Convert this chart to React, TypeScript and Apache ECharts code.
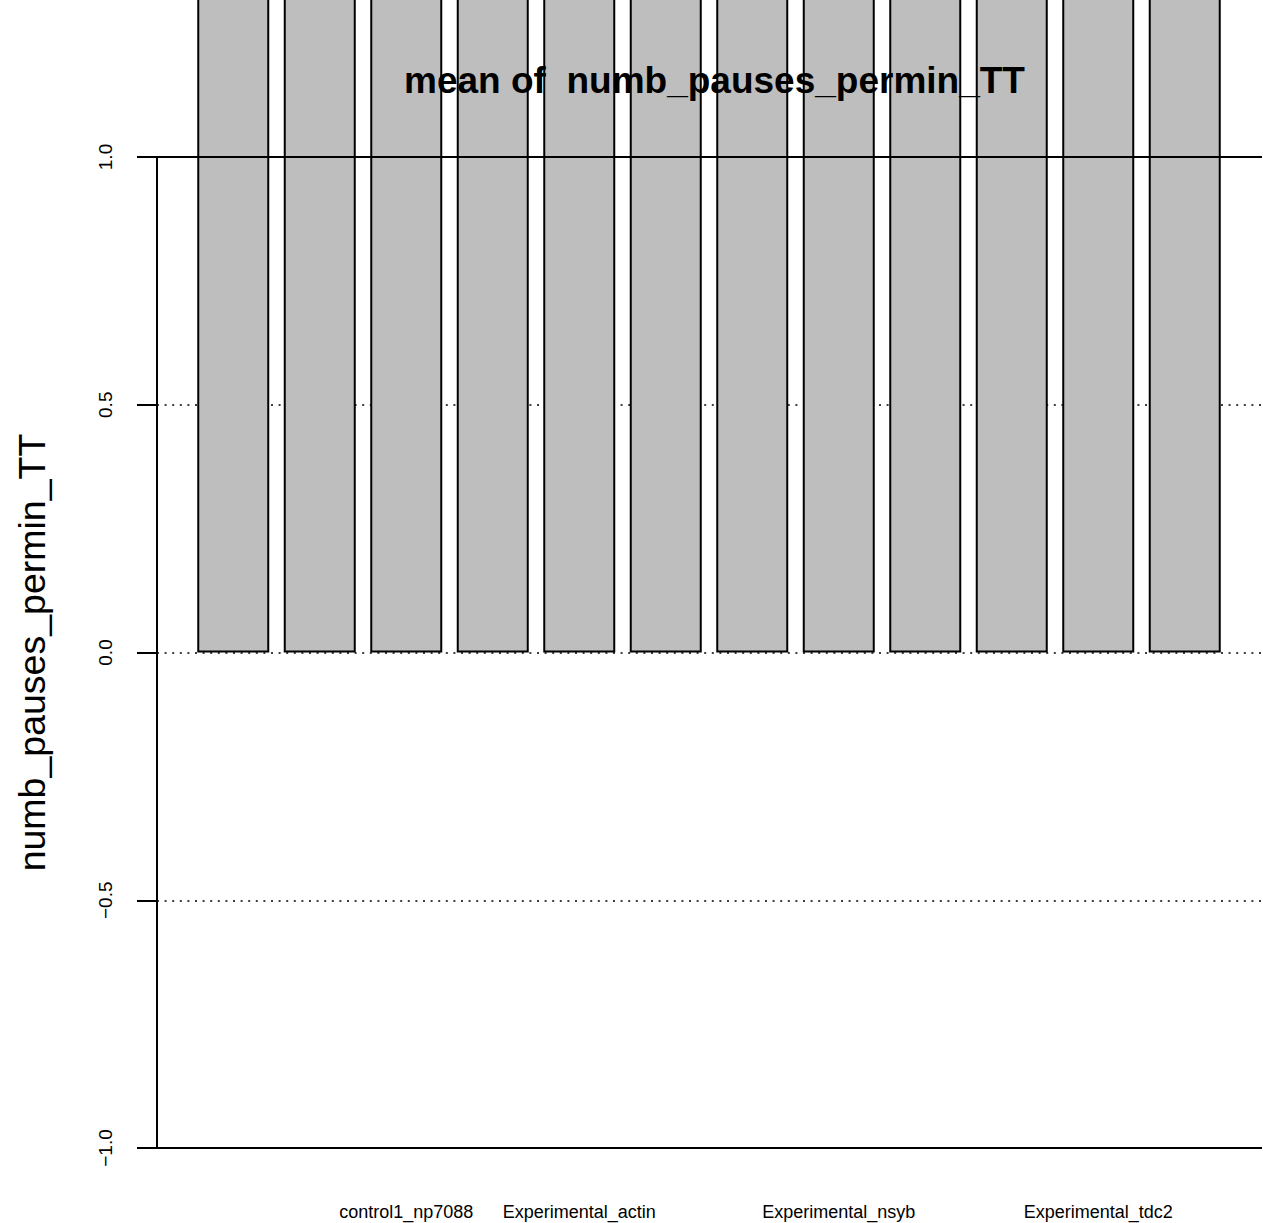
import React, { useEffect, useRef } from "react";
import * as echarts from "echarts";

// Bar labels as drawn under the axis (R hid the overlapping ones)
const categories: string[] = [
  "", "", "control1_np7088", "", "Experimental_actin", "", "",
  "Experimental_nsyb", "", "", "Experimental_tdc2", "",
];
// Means: every bar runs past the top of the picture (values > 1.32)
const means: number[] = [1.5, 1.5, 1.5, 1.5, 1.5, 1.5, 1.5, 1.5, 1.5, 1.5, 1.5, 1.5];
const yTicks: number[] = [-1, -0.5, 0, 0.5, 1];
const solidRefLines: number[] = [-1, 1];
const titleText = "mean of  numb_pauses_permin_TT";
const yTitle = "numb_pauses_permin_TT";

const FONT = "'Liberation Sans', Arial, Helvetica, sans-serif";

export default function App() {
  const ref = useRef<HTMLDivElement>(null);
  useEffect(() => {
    if (!ref.current) return;
    const chart = echarts.init(ref.current, undefined, { renderer: "svg" });
    const fmt = (v: number) => v.toFixed(1).replace("-", "\u2212");
    chart.setOption({
      animation: false,
      backgroundColor: "#ffffff",
      textStyle: { fontFamily: FONT },
      title: {
        text: titleText,
        left: 709.5,
        top: 57,
        textAlign: "center",
        textStyle: { fontFamily: FONT, fontSize: 37, fontWeight: "bold", color: "#000" },
      },
      grid: [
        { left: 157, right: 1, top: 157, bottom: 75, containLabel: false },
        { left: 190, right: 35, top: 157, bottom: 75, containLabel: false },
      ],
      xAxis: [
        { type: "value", gridIndex: 0, min: 0, max: 1, show: false },
        {
          type: "category",
          gridIndex: 1,
          data: categories,
          axisLine: { show: false },
          axisTick: { show: false },
          axisLabel: {
            interval: 0,
            fontFamily: FONT,
            fontSize: 18,
            color: "#000",
            margin: 55,
          },
        },
      ],
      yAxis: [
        {
          type: "value",
          gridIndex: 0,
          min: yTicks[0],
          max: yTicks[yTicks.length - 1],
          interval: 0.5,
          name: yTitle,
          nameLocation: "middle",
          nameGap: 106,
          nameTextStyle: { fontFamily: FONT, fontSize: 37.5, color: "#000" },
          axisLine: { show: true, lineStyle: { color: "#000", width: 2 } },
          axisTick: { show: true, length: 20, lineStyle: { color: "#000", width: 2 } },
          axisLabel: {
            rotate: 90,
            fontFamily: FONT,
            fontSize: 19,
            color: "#000",
            margin: 42,
            formatter: fmt,
          },
          splitLine: {
            show: true,
            lineStyle: { color: "#000", width: 1.6, type: [2, 5.6] },
          },
        },
        { type: "value", gridIndex: 1, min: yTicks[0], max: yTicks[yTicks.length - 1], show: false },
      ],
      series: [
        {
          type: "bar",
          xAxisIndex: 1,
          yAxisIndex: 1,
          data: means,
          barWidth: 72,
          clip: false,
          z: 2,
          itemStyle: { color: "#BEBEBE", borderColor: "#000", borderWidth: 2 },
          silent: true,
        },
        {
          type: "line",
          xAxisIndex: 0,
          yAxisIndex: 0,
          data: [],
          z: 3,
          markLine: {
            silent: true,
            symbol: "none",
            label: { show: false },
            lineStyle: { color: "#000", width: 2, type: "solid" },
            data: solidRefLines.map((v) => ({ yAxis: v })),
          },
        },
      ],
    });
    return () => chart.dispose();
  }, []);
  return (
    <div
      ref={ref}
      style={{ position: "fixed", left: 0, top: 0, width: 1263, height: 1223, background: "#fff" }}
    />
  );
}
